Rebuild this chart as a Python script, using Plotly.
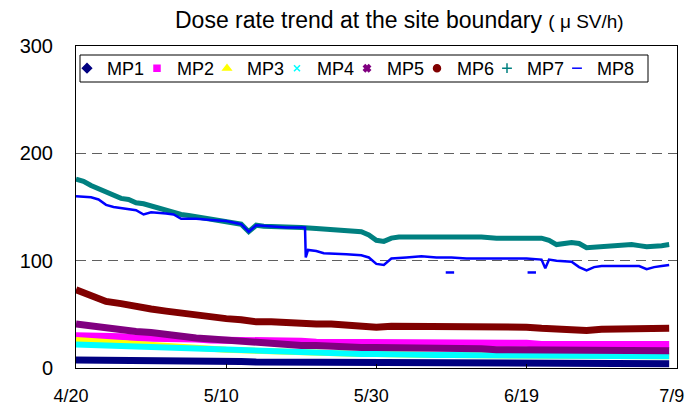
import pandas as pd
import plotly.graph_objects as go

# ---------------- data ----------------
start_date = "2011-04-20"

# shared sampling grid (days after 4/20) for the smoother series
grid_days = [0, 2, 4, 6, 8, 10, 12, 14, 16, 18, 20, 22, 24, 26, 28, 30, 32, 34, 36, 38,
             40, 42, 44, 46, 48, 50, 52, 54, 56, 58, 60, 62, 64, 66, 68, 70, 72, 74, 76, 78, 79]

mp1 = [7.5, 7.5, 7, 7, 7, 6.5, 6.5, 6.5, 6, 6, 6, 6, 5.5, 5.5, 5.5, 5.5, 5.5, 5, 5, 5,
       5, 5, 5, 5, 5, 5, 4.5, 4.5, 4.5, 4.5, 4.5, 4.5, 4.5, 4.5, 4.5, 4.5, 4, 4, 4, 4, 4]
mp2 = [30, 30, 29, 29, 28, 28, 28, 27, 27, 26, 26, 26, 25, 25, 25, 25, 24, 24, 24, 24,
       24, 24, 23, 23, 23, 23, 23, 23, 23, 23, 23, 22, 22, 22, 22, 22, 22, 22, 22, 22, 22]
mp3 = [26, 25, 24.5, 23.5, 22.5, 21.5, 21, 20, 19, 18, 17, 16.5, 16, 15, 14.5, 14, 14, 13.5, 13.5, 13,
       13, 12.5, 12.5, 12.5, 12, 12, 12, 12, 12, 12, 11.5, 11.5, 11.5, 11.5, 11.5, 11, 11, 11, 11, 11, 11]
mp4 = [22, 21.5, 21, 20.5, 20, 19.5, 19, 18.5, 18, 17, 16.5, 16, 15.5, 15, 14.5, 14, 14, 13.5, 13.5, 13,
       13, 12.5, 12.5, 12.5, 12, 12, 12, 12, 12, 12, 11.5, 11.5, 11.5, 11.5, 11.5, 11, 11, 11, 11, 11, 11]
mp5 = [41, 39, 37, 36, 34, 33, 31, 29, 28, 27, 26, 24, 23, 22, 22, 21, 21, 20, 20, 19,
       19, 19, 18, 18, 18, 18, 18, 18, 17, 17, 17, 17, 17, 17, 16, 16, 16, 16, 16, 16, 16]
mp6 = [73, 67, 62, 60, 57, 55, 53, 51, 50, 48, 46, 45, 43, 43, 42, 42, 41, 41, 40, 40,
       38, 39, 39, 39, 39, 39, 39, 39, 38, 38, 38, 37, 36, 36, 35, 36, 36, 36, 36, 36, 37]

mp7_days = [0, 1, 2, 3, 4, 5, 6, 7, 8, 9, 10, 11, 12, 13, 14, 15, 16, 17, 18, 19, 20, 21, 22, 23, 24, 25, 26,
            28, 30, 32, 34, 36, 38, 39, 40, 41, 42, 43, 44,
            46, 48, 50, 52, 54, 56, 58, 60, 61, 62, 63, 64,
            66, 67, 68, 70, 72, 74, 75, 76, 78, 79]
mp7 = [176, 174, 170, 167, 163, 161, 158, 157, 154, 153, 151, 149, 146, 145, 143, 142, 141, 140, 139, 138,
       137, 136, 134, 127, 133, 132, 132,
       131, 131, 130, 129, 128, 127, 124, 119, 118, 121, 122, 122,
       123, 122, 123, 122, 122, 121, 121, 121, 120, 121, 119, 115,
       117, 116, 112, 113, 115, 115, 114, 113, 114, 115]

mp8_days = [0, 2, 3, 4, 5, 6, 8, 9, 10, 12, 13, 14, 16, 18, 20, 22, 23, 24, 26, 28,
            30, 30.5, 30.6, 30.9, 32, 33, 36, 38, 39, 40, 41, 42, 44, 46, 48, 50, 52, 54, 56, 58,
            60, 62, 62.5, 63, 64, 66, 67, 68, 69, 70, 72, 74, 75, 76, 77, 78, 79]
mp8 = [160, 159, 157, 152, 150, 149, 147, 143, 145, 144, 143, 139, 139, 138, 137, 134, 127, 133, 132, 131,
       131, 131, 103, 110, 109, 107, 106, 105, 103, 97, 96, 102, 103, 104, 103, 103, 102, 102, 102, 102,
       102, 101, 93, 101, 100, 99, 94, 91, 94, 95, 95, 95, 95, 92, 94, 95, 96]
mp8_out_days = [49.8, 60.7]
mp8_out = [89, 89]

tick_dates = ["2011-04-20", "2011-05-10", "2011-05-30", "2011-06-19", "2011-07-09"]
tick_labels = ["4/20", "5/10", "5/30", "6/19", "7/9"]
y_ticks = [0, 100, 200, 300]

names = ["MP1", "MP2", "MP3", "MP4", "MP5", "MP6", "MP7", "MP8"]
colors = ["#000080", "#FF00FF", "#FFFF00", "#00FFFF", "#800080", "#800000", "#008080", "#0000FF"]

# ---------------- helpers ----------------
base = pd.Timestamp(start_date)


def to_dates(days):
    return [base + pd.Timedelta(days=d) for d in days]


grid_x = to_dates(grid_days)
series = [
    (grid_x, mp1, 7),
    (grid_x, mp2, 7),
    (grid_x, mp3, 6),
    (grid_x, mp4, 6),
    (grid_x, mp5, 7),
    (grid_x, mp6, 7),
    (to_dates(mp7_days), mp7, 5),
    (to_dates(mp8_days), mp8, 2.5),
]

fig = go.Figure()
for (xs, ys, w), name, col in zip(series, names, colors):
    fig.add_trace(go.Scatter(x=xs, y=ys, mode="lines", name=name, showlegend=False,
                             line=dict(color=col, width=w), hoverinfo="skip"))

fig.add_trace(go.Scatter(x=to_dates(mp8_out_days), y=mp8_out, mode="markers", showlegend=False,
                         marker=dict(symbol="line-ew", size=6, line=dict(color="#0000FF", width=2.5)),
                         hoverinfo="skip"))

# legend entries (symbols only)
symbols = ["diamond", "square", "triangle-up", "x-thin", "x", "circle", "cross-thin", "line-ew"]
sizes = [7, 6, 7, 6, 6, 7, 7, 7]
for name, col, sym, sz in zip(names, colors, symbols, sizes):
    fig.add_trace(go.Scatter(x=[None], y=[None], mode="markers", name=name,
                             marker=dict(symbol=sym, size=sz, color=col,
                                         line=dict(color=col, width=1.5))))

end_range = pd.Timestamp(tick_dates[-1]) + pd.Timedelta(hours=1)

# layout geometry: the page body adds an 8px offset, so the figure is 8px smaller
OFF = 8
W, H = 693 - OFF, 406 - OFF
L, R, T, B = 76 - OFF, 16, 46 - OFF, 38
pw, ph = W - L - R, H - T - B


def sx(p):  # screen x pixel -> paper x
    return (p - OFF - L) / pw


def sy(p):  # screen y pixel -> paper y
    return (H - B - (p - OFF)) / ph


fig.update_layout(
    template="none",
    width=W, height=H,
    margin=dict(l=L, r=R, t=T, b=B, pad=0),
    paper_bgcolor="white", plot_bgcolor="white",
    font=dict(family="Liberation Sans, Arial, sans-serif", color="black"),
    title=dict(
        text="Dose rate trend at the site boundary <span style='font-size:19px'>( μ SV/h)</span>",
        font=dict(size=23, family="Liberation Sans, Arial, sans-serif", color="black"),
        x=(175 - OFF) / W, xanchor="left", y=1 - (20 - OFF) / H, yanchor="middle",
    ),
    legend=dict(
        orientation="h", x=0, y=sy(68.5),
        xanchor="left", yanchor="middle",
        borderwidth=0, bgcolor="rgba(0,0,0,0)",
        font=dict(size=18, family="Liberation Sans, Arial, sans-serif"),
        itemwidth=30, tracegroupgap=0, indentation=-9,
        entrywidth=34, entrywidthmode="pixels",
    ),
    showlegend=True,
    shapes=[dict(type="rect", xref="paper", yref="paper",
                 x0=sx(80), x1=sx(648), y0=sy(82), y1=sy(55),
                 line=dict(color="black", width=1), fillcolor="white", layer="above")],
)

fig.update_xaxes(
    type="date", range=[pd.Timestamp(tick_dates[0]), end_range],
    tickvals=tick_dates, ticktext=tick_labels,
    ticks="inside", ticklen=4, tickcolor="black",
    showgrid=False, zeroline=False, automargin=False,
    showline=True, linecolor="black", linewidth=1, mirror=True,
    tickfont=dict(size=18, family="Liberation Sans, Arial, sans-serif"),
    ticklabelstandoff=11, ticklabelshift=-5, ticklabeloverflow="allow",
)
fig.update_yaxes(
    range=[0, 300], tickvals=y_ticks,
    ticks="outside", ticklen=18, tickcolor="white",
    showgrid=True, gridcolor="#606060", gridwidth=1.3, griddash="10px,6px",
    zeroline=False, automargin=False,
    showline=True, linecolor="black", linewidth=1, mirror=True,
    tickfont=dict(size=20, family="Liberation Sans, Arial, sans-serif"),
)

fig.write_html("out.html")
